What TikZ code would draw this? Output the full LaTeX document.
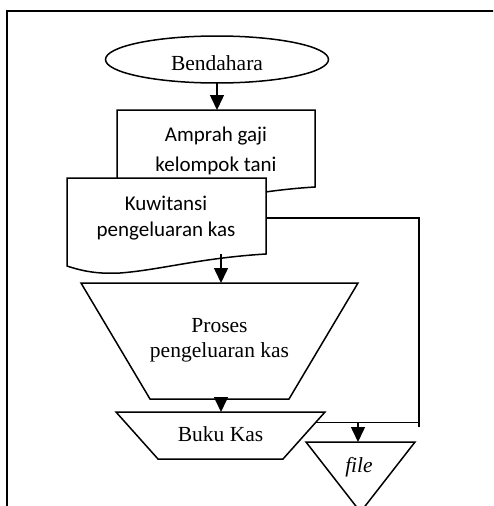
\documentclass[tikz,border=0pt]{standalone}
\usepackage{fontspec}
\setmainfont{Liberation Serif}
\newfontfamily\calib{Carlito}
\usetikzlibrary{arrows.meta}

\tikzset{
  shapeline/.style={draw=black, line width=1.5pt, line join=miter, fill=white},
  flow/.style={draw=black, line width=1.5pt, -{Triangle[length=15pt,width=14pt]}},
  plain/.style={draw=black, line width=1.5pt},
  serifsz/.style={font=\fontsize{21.5}{25}\selectfont, align=center, inner sep=0pt},
  sanssz/.style={font=\calib\fontsize{21}{25}\selectfont, align=center, inner sep=0pt},
}

\begin{document}
\begin{tikzpicture}[x=1pt, y=-1pt]
  \clip (0,0) rectangle (493,506);
  \fill[white] (0,0) rectangle (493,506);

  % outer frame (open at right and bottom)
  \draw[line width=1.8pt] (7,520) -- (7,11) -- (510,11);

  % terminator
  \path[shapeline] (217,59.5) ellipse [x radius=111.5pt, y radius=23.5pt];
  \node[serifsz, anchor=base] (bend) at (217,70.5) {Bendahara};
  \coordinate (bendBot) at (217,83);

  % document: Amprah gaji
  \path[shapeline] (117,110) -- (315,110) -- (315,187)
     .. controls (249,191) and (209,204) .. (170,206)
     .. controls (150,207) and (135,205) .. (117,199) -- cycle;
  \coordinate (ampTop) at (217,110);
  \node[sanssz, font=\calib\fontsize{21}{30}\selectfont] (amp) at (216,151) {Amprah gaji\\kelompok tani};

  % document: Kuwitansi
  \path[shapeline] (67,178) -- (266,178) -- (266,254)
     .. controls (200,258) and (160,270) .. (120,273)
     .. controls (100,274) and (85,272) .. (67,266) -- cycle;
  \node[sanssz, font=\calib\fontsize{21}{26}\selectfont] (kw) at (166,218) {Kuwitansi\\pengeluaran kas};
  \coordinate (kwBot) at (221,254);
  \coordinate (kwR) at (266,218);

  % manual operation: Proses
  \path[shapeline] (81,283) -- (358,283) -- (289,399) -- (150,399) -- cycle;
  \coordinate (prTop) at (221,283);
  \coordinate (prBot) at (221,399);
  \node[serifsz] (pr) at (219.5,340) {Proses\\pengeluaran kas};

  % Buku Kas
  \path[shapeline] (116,412) -- (325,412) -- (283,459) -- (158,459) -- cycle;
  \coordinate (bkTop) at (221,412);
  \coordinate (bkR) at (315.2,422.5);
  \node[serifsz] (bk) at (220.5,434) {Buku Kas};

  % file storage
  \path[shapeline] (306,442) -- (415,442) -- (360.5,512) -- cycle;
  \coordinate (fTop) at (358,442);
  \node[serifsz, font=\itshape\fontsize{21.5}{25}\selectfont] (fl) at (359,467) {file};

  % connectors
  \draw[flow] (bendBot) -- (ampTop);
  \draw[flow] (kwBot) -- (prTop);
  \draw[flow] (prBot) -- (bkTop);
  \coordinate (corner) at (419,422.5);
  \draw[plain] (kwR) -| (corner) -- (bkR);
  \draw[plain] (corner) -- ++(0,4.5);
  \coordinate (join) at (358,422.5);
  \draw[flow] (join) -- (fTop);
\end{tikzpicture}
\end{document}
